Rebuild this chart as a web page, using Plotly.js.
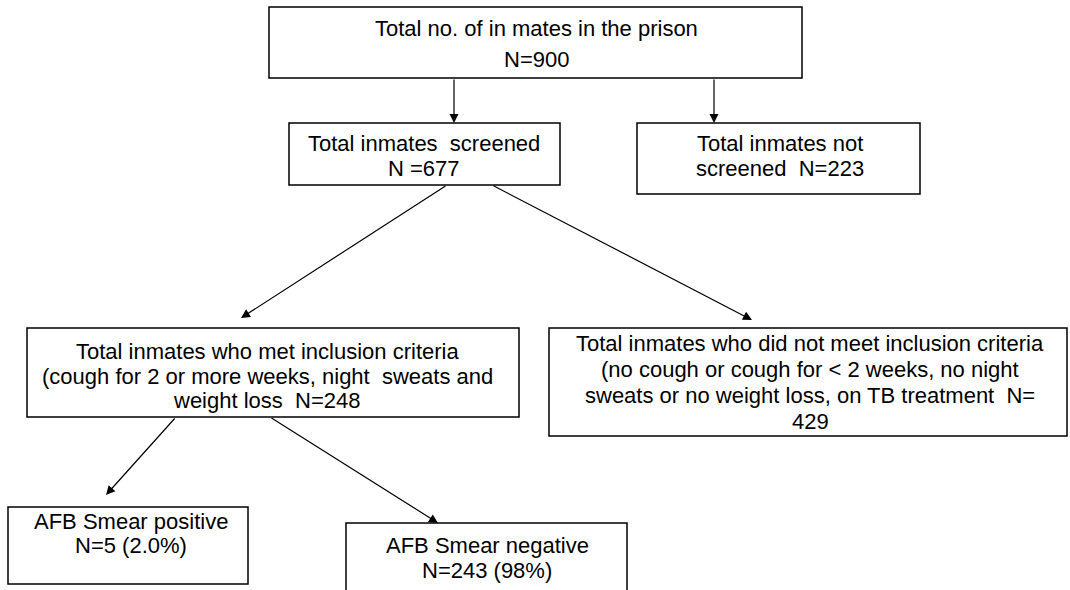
<!DOCTYPE html>
<html>
<head>
<meta charset="utf-8">
<script src="https://cdn.plot.ly/plotly-3.0.1.min.js"></script>
<style>html,body{margin:0;padding:0;background:#fff;}#chart{width:1070px;height:590px;}</style>
</head>
<body>
<div id="chart"></div>
<script>
// ---- data ----
const nodeNames = ["total", "screened", "notScreened", "met", "notMet", "positive", "negative"];
const nodeLines = [
  ["Total no. of in mates in the prison", "N=900"],
  ["Total inmates&nbsp; screened", "N =677"],
  ["Total inmates not", "screened&nbsp; N=223"],
  ["Total inmates who met inclusion criteria", "(cough for 2 or more weeks, night&nbsp; sweats and", "weight loss&nbsp; N=248"],
  ["Total inmates who did not meet inclusion criteria", "(no cough or cough for &lt; 2 weeks, no night", "sweats or no weight loss, on TB treatment&nbsp; N=", "429"],
  ["AFB Smear positive", "N=5 (2.0%)"],
  ["AFB Smear negative", "N=243 (98%)"]
];
const nodeCounts = [900, 677, 223, 248, 429, 5, 243];
const edgesFrom = ["total", "total", "screened", "screened", "met", "met"];
const edgesTo = ["screened", "notScreened", "met", "notMet", "positive", "negative"];

// ---- layout geometry (pixels) ----
const boxGeom = {
  total:       {x0: 269, x1: 802, y0: 7,   y1: 78,  tx: 536, ty: [28, 59]},
  screened:    {x0: 289, x1: 560, y0: 123, y1: 185, tx: 424, ty: [143, 168]},
  notScreened: {x0: 637, x1: 920, y0: 123, y1: 194, tx: 780, ty: [143, 168]},
  met:         {x0: 27,  x1: 519, y0: 328, y1: 417, tx: 267, ty: [351, 376, 400]},
  notMet:      {x0: 549, x1: 1067, y0: 328, y1: 436, tx: 810, ty: [343, 369, 395, 421]},
  positive:    {x0: 8,   x1: 248, y0: 507, y1: 584, tx: 131, ty: [521, 545]},
  negative:    {x0: 346, x1: 627, y0: 523, y1: 600, tx: 487, ty: [545, 570]}
};
const edgeGeom = [
  {ax: 454, ay: 78,  x: 454, y: 123},
  {ax: 714, ay: 78,  x: 714, y: 123},
  {ax: 447, ay: 185, x: 241, y: 318},
  {ax: 492, ay: 185, x: 752, y: 320},
  {ax: 176, ay: 417, x: 106, y: 495},
  {ax: 270, ay: 417, x: 438, y: 523}
];

const shapes = [];
const annotations = [];
nodeNames.forEach((name, i) => {
  const g = boxGeom[name];
  shapes.push({type: 'rect', xref: 'x', yref: 'y', x0: g.x0, x1: g.x1, y0: g.y0, y1: g.y1,
    line: {color: '#000', width: 1.5}, fillcolor: 'rgba(0,0,0,0)'});
  nodeLines[i].forEach((t, k) => {
    annotations.push({xref: 'x', yref: 'y', x: g.tx, y: g.ty[k], text: t, showarrow: false,
      xanchor: 'center', yanchor: 'middle',
      font: {family: 'Liberation Sans, Arial, sans-serif', size: 22, color: '#000'}});
  });
});
edgesFrom.forEach((f, i) => {
  const e = edgeGeom[i];
  annotations.push({xref: 'x', yref: 'y', axref: 'x', ayref: 'y', x: e.x, y: e.y, ax: e.ax, ay: e.ay,
    text: '', showarrow: true, arrowhead: 2, arrowsize: 1.5, arrowwidth: 1.2, arrowcolor: '#000', standoff: 0});
});

const layout = {
  width: 1070, height: 590,
  margin: {l: 0, r: 0, t: 0, b: 0},
  paper_bgcolor: '#fff', plot_bgcolor: '#fff',
  xaxis: {range: [0, 1070], visible: false, fixedrange: true},
  yaxis: {range: [590, 0], visible: false, fixedrange: true},
  shapes: shapes,
  annotations: annotations,
  showlegend: false
};
Plotly.newPlot('chart', [{x: [], y: [], type: 'scatter', mode: 'markers', hoverinfo: 'skip'}], layout, {staticPlot: true, displayModeBar: false});
</script>
</body>
</html>
